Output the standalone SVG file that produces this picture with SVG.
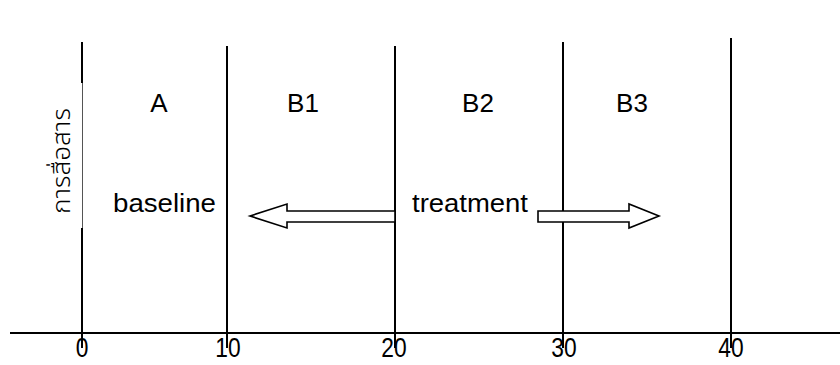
<svg xmlns="http://www.w3.org/2000/svg" width="840" height="365" viewBox="0 0 840 365">
  <style>
    .grid { stroke: #000; stroke-width: 2; fill: none; }
    .lbl { font-family: "Liberation Sans", Arial, sans-serif; font-size: 26px; fill: #000; }
    .arrow { fill: #fff; stroke: #000; stroke-width: 1.6; stroke-linejoin: miter; }
  </style>
  <rect width="840" height="365" fill="#fff"/>

  <g id="axis">
    <line class="grid" x1="10" y1="333" x2="840" y2="333"/>
    <line class="grid" x1="82" y1="42" x2="82" y2="83"/>
    <line x1="82.5" y1="83" x2="82.5" y2="228" stroke="#555" stroke-width="1"/>
    <line class="grid" x1="82" y1="228" x2="82" y2="348"/>
    <line class="grid" x1="227" y1="46" x2="227" y2="348"/>
    <line class="grid" x1="395" y1="46" x2="395" y2="348"/>
    <line class="grid" x1="563" y1="42" x2="563" y2="348"/>
    <line class="grid" x1="731" y1="38" x2="731" y2="348"/>
  </g>

  <g id="ticks" class="lbl" text-anchor="middle">
    <text transform="translate(82,357) scale(0.95,1.15)" font-size="24">0</text>
    <text transform="translate(228,357) scale(0.95,1.15)" font-size="24">10</text>
    <text transform="translate(394,357) scale(0.95,1.15)" font-size="24">20</text>
    <text transform="translate(564,357) scale(0.95,1.15)" font-size="24">30</text>
    <text transform="translate(731,357) scale(0.95,1.15)" font-size="24">40</text>
  </g>

  <g id="ylabel">
    <text transform="translate(70,214) rotate(-90)" font-family="'Noto Sans Thai', 'Noto Sans', 'DejaVu Sans', sans-serif" font-size="24" font-weight="300" textLength="106" lengthAdjust="spacingAndGlyphs" fill="#000">การสื่อสาร</text>
  </g>

  <g id="phase-A"><text class="lbl" x="159" y="112" text-anchor="middle" font-size="27">A</text></g>
  <g id="phase-B1"><text class="lbl" x="303" y="112" text-anchor="middle" font-size="27">B1</text></g>
  <g id="phase-B2"><text class="lbl" x="478" y="112" text-anchor="middle" font-size="27">B2</text></g>
  <g id="phase-B3"><text class="lbl" x="632" y="112" text-anchor="middle" font-size="27">B3</text></g>

  <g id="baseline"><text class="lbl" x="113" y="212" font-size="27" textLength="103" lengthAdjust="spacingAndGlyphs">baseline</text></g>
  <g id="treatment"><text class="lbl" x="412" y="212" font-size="27" textLength="116" lengthAdjust="spacingAndGlyphs">treatment</text></g>

  <g id="connectors">
    <polygon class="arrow" points="395,211 287,211 287,204 250,216 287,228 287,222 395,222"/>
    <polygon class="arrow" points="538,211 629,211 629,204 659,216 629,228 629,222 538,222"/>
  </g>
</svg>
